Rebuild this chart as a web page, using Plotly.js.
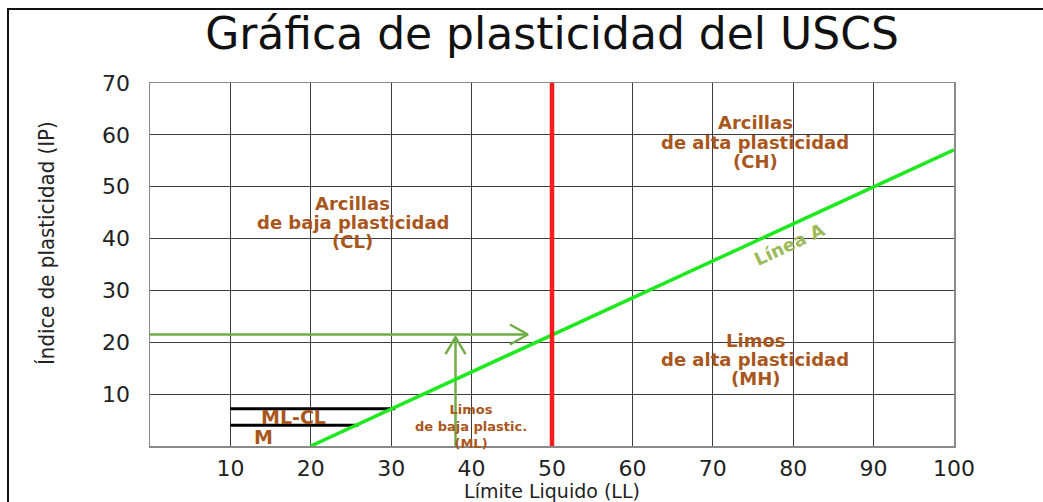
<!DOCTYPE html>
<html><head><meta charset="utf-8">
<script src="https://cdn.plot.ly/plotly-3.0.1.min.js"></script>
<style>
html,body{margin:0;padding:0;background:#fff;overflow:hidden}
#chart{position:absolute;left:0;top:0;width:1043px;height:502px}
#frame{position:absolute;left:7px;top:8px;width:1100px;height:600px;border-left:2px solid #111;border-top:2px solid #111;pointer-events:none}
</style></head>
<body>
<div id="chart"></div><div id="frame"></div>
<script>
// ---- data ----
const xTickVals = [10, 20, 30, 40, 50, 60, 70, 80, 90, 100];
const xTickText = ['10', '20', '30', '40', '50', '60', '70', '80', '90', '100'];
const yTickVals = [10, 20, 30, 40, 50, 60, 70];
const yTickText = ['10', '20', '30', '40', '50', '60', '70'];

const aLineLL = [20, 100];        // Línea A
const aLineIP = [0, 57.1];
const limitLL = [50, 50];         // LL = 50
const limitIP = [0, 70];
const mlclUpperLL = [10, 30.5];
const mlclUpperIP = [7.2, 7.2];
const mlclLowerLL = [10, 25.9];
const mlclLowerIP = [4, 4];
const arrowHLL = [0, 47];
const arrowHIP = [21.5, 21.5];
const arrowVLL = [38, 38];
const arrowVIP = [0, 21];

// ---- layout constants ----
const W = 1043, H = 502;
const M = {l: 150, r: 89, t: 83, b: 56};
const pxPerLL = (W - M.l - M.r) / 100;
const pxPerIP = (H - M.t - M.b) / 70;

const arrowColor = '#70ad47';
const brown = '#a9561c';
const headLen = 18, headHalf = 10;

function line(x, y, color, width) {
  return {x: x, y: y, type: 'scatter', mode: 'lines', line: {color: color, width: width},
          hoverinfo: 'skip', showlegend: false, cliponaxis: false};
}
const hTip = [arrowHLL[1], arrowHIP[1]];
const vTip = [arrowVLL[1], arrowVIP[1]];
const hHead = line([hTip[0] - headLen / pxPerLL, hTip[0], hTip[0] - headLen / pxPerLL],
                   [hTip[1] + headHalf / pxPerIP, hTip[1], hTip[1] - headHalf / pxPerIP], arrowColor, 2.5);
const vHead = line([vTip[0] - headHalf / pxPerLL, vTip[0], vTip[0] + headHalf / pxPerLL],
                   [vTip[1] - 17 / pxPerIP, vTip[1], vTip[1] - 17 / pxPerIP], arrowColor, 2.5);

const traces = [
  line(mlclUpperLL, mlclUpperIP, '#000', 3),
  line(mlclLowerLL, mlclLowerIP, '#000', 3),
  line(arrowHLL, arrowHIP, arrowColor, 2.5),
  hHead,
  line(arrowVLL, arrowVIP, arrowColor, 2.5),
  vHead,
  line(aLineLL, aLineIP, '#1ee81e', 3.5),
  line(limitLL, limitIP, '#ff1a1a', 4.5)
];

const bf = (size, color) => ({family: 'DejaVu Sans', size: size, color: color || brown, weight: 'bold'});
function lbl(text, x, y, size, extra) {
  return Object.assign({text: text, x: x, y: y, xref: 'x', yref: 'y', showarrow: false,
                        xanchor: 'center', yanchor: 'middle', font: bf(size)}, extra || {});
}
const annotations = [
  lbl('Arcillas', 25.2, 46.8, 18), lbl('de baja plasticidad', 25.2, 43.1, 18), lbl('(CL)', 25.2, 39.4, 18),
  lbl('Arcillas', 75.3, 62.4, 18), lbl('de alta plasticidad', 75.3, 58.6, 18), lbl('(CH)', 75.3, 54.9, 18),
  lbl('Limos', 75.3, 20.3, 18), lbl('de alta plasticidad', 75.3, 16.7, 18), lbl('(MH)', 75.3, 13.1, 18),
  lbl('Limos<br>de baja plastic.<br>(ML)', 39.9, 3.8, 13),
  lbl('ML-CL', 17.8, 5.6, 19), lbl('M', 14.1, 1.7, 19),
  lbl('Línea A', 79.5, 38.8, 18, {textangle: -25, font: bf(18, '#9bbb59')}),
  {text: 'Índice de plasticidad (IP)', xref: 'paper', yref: 'paper',
   x: (46 - M.l) / (W - M.l - M.r), y: (H - M.b - 243) / (H - M.t - M.b),
   showarrow: false, textangle: -90, xanchor: 'center', yanchor: 'middle',
   font: {family: 'Liberation Sans Narrow, DejaVu Sans Condensed, sans-serif', size: 22, color: '#222'}}
];

const axisCommon = {
  showgrid: true, gridcolor: '#3c3c3c', gridwidth: 1.2,
  showline: true, linecolor: '#8a8a8a', linewidth: 1.5, mirror: true,
  zeroline: false, ticks: '', tickmode: 'array',
  tickfont: {family: 'DejaVu Sans', size: 22, color: '#222'}, fixedrange: true
};

const layout = {
  width: W, height: H, margin: Object.assign({pad: 0}, M),
  paper_bgcolor: '#fff', plot_bgcolor: '#fff', showlegend: false,
  title: {text: 'Gráfica de plasticidad del USCS', x: 0.5, xref: 'paper', xanchor: 'center',
          y: 1 - 34 / H, yref: 'container', yanchor: 'middle',
          font: {family: 'DejaVu Sans', size: 44, color: '#111'}},
  xaxis: Object.assign({}, axisCommon, {range: [0, 100], tickvals: xTickVals, ticktext: xTickText,
          ticklabelstandoff: 2,
          title: {text: 'Límite Liquido (LL)', standoff: 7, font: {family: 'DejaVu Sans', size: 19, color: '#222'}}}),
  yaxis: Object.assign({}, axisCommon, {range: [0, 70], tickvals: yTickVals, ticktext: yTickText,
          ticklabelstandoff: 14}),
  annotations: annotations
};

Plotly.newPlot('chart', traces, layout, {displayModeBar: false, staticPlot: true});
</script>
</body></html>
